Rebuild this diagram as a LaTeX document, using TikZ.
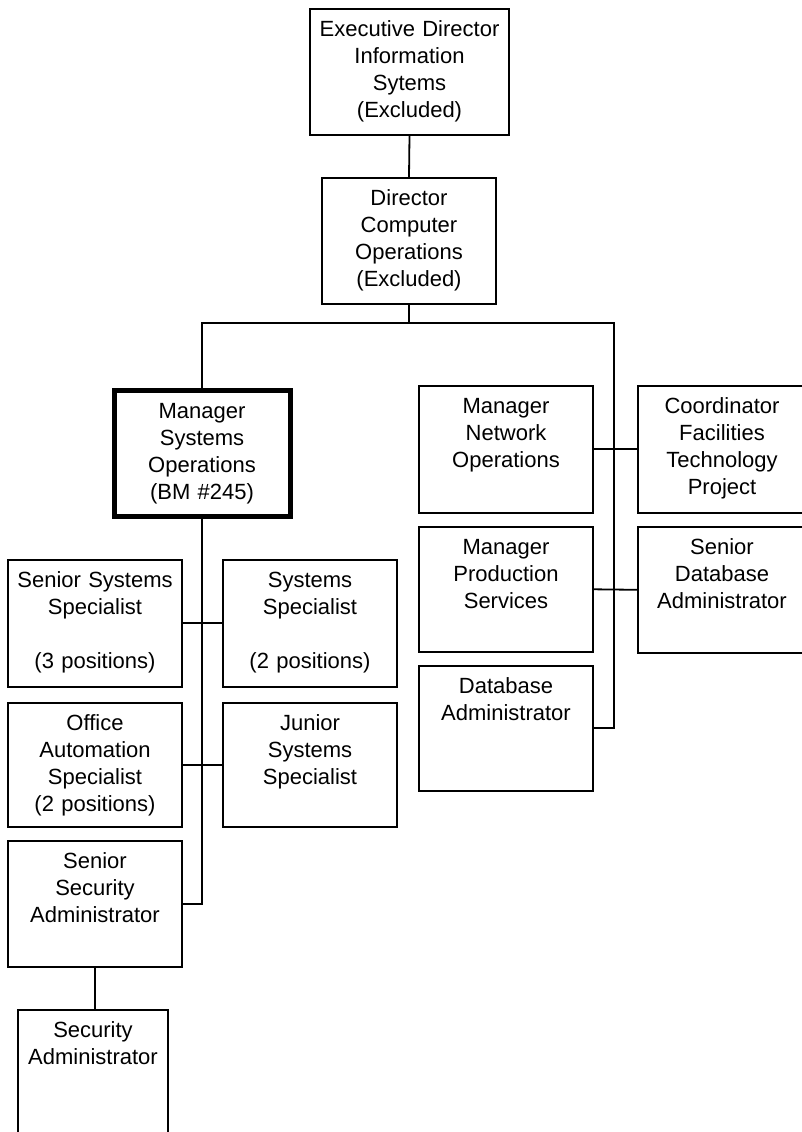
\documentclass[tikz,border=0pt]{standalone}
\usepackage{fontspec}
\setmainfont{Liberation Sans}
\usepackage{tikz}
\usetikzlibrary{positioning}
\tikzset{
  org_b/.style 2 args = {draw=black, line width=1.6pt, fill=white, inner sep=0pt,
    anchor=north, align=center, text height=28pt, text width=#1, text depth=#2,
    font=\fontsize{22}{27}\selectfont},% plain box
  org_m/.style 2 args = {org_b={#1}{#2}, line width=5pt},% manager box, thick
  org_l/.style = {draw=black, line width=1.8pt}% connector
}
\begin{document}
\begin{tikzpicture}[x=1pt,y=-1pt]
  \useasboundingbox (0,0) rectangle (801,1132);
  % top of the chart
  \node [org_b={199pt}{98pt}] (exec) at (409.5,8) {Executive Director\\Information\\Sytems\\(Excluded)};
  \node [org_b={174pt}{98pt}] (dir) at (409,177) {Director\\Computer\\Operations\\(Excluded)};
  % left branch
  \node [org_m={176pt}{98pt}] (msys) at (202,388) {Manager\\Systems\\Operations\\(BM \#245)};
  \node [org_b={174pt}{99pt}] (senspec) at (95,559) {Senior Systems\\Specialist\\~\\(3 positions)};
  \node [org_b={174pt}{99pt}] (sysspec) at (310,559) {Systems\\Specialist\\~\\(2 positions)};
  \node [org_b={174pt}{96pt}] (office) at (95,702) {Office\\Automation\\Specialist\\(2 positions)};
  \node [org_b={174pt}{96pt}] (junior) at (310,702) {Junior\\Systems\\Specialist};
  \node [org_b={174pt}{98pt}] (sensec) at (95,840) {Senior\\Security\\Administrator};
  \node [org_b={150pt}{140pt}] (secadm) at (93,1009) {Security\\Administrator};
  % right branch
  \node [org_b={174pt}{99pt}] (mnet) at (506,385) {Manager\\Network\\Operations};
  \node [org_b={168pt}{99pt}] (coord) at (722,385) {Coordinator\\Facilities\\Technology\\Project};
  \node [org_b={174pt}{97pt}] (mprod) at (506,526) {Manager\\Production\\Services};
  \node [org_b={168pt}{98pt}] (sendb) at (722,526) {Senior\\Database\\Administrator};
  \node [org_b={174pt}{97pt}] (dbadm) at (506,665) {Database\\Administrator};
  % connectors
  \coordinate (busR) at (614,323);
  \draw [org_l] (exec.south) -- (dir.north);
  \draw [org_l] (dir.south) -- (dir.south |- busR);
  \draw [org_l] (msys.north) |- (busR) |- (dbadm.east);
  \draw [org_l] (mnet.east) -- (coord.west);
  \draw [org_l] (mprod.east) -- (sendb.west);
  \draw [org_l] (msys.south) |- (sensec.east);
  \draw [org_l] (senspec.east) -- (sysspec.west);
  \draw [org_l] (office.east) -- (junior.west);
  \draw [org_l] (sensec.south) -- (sensec.south |- secadm.north);
\end{tikzpicture}
\end{document}
